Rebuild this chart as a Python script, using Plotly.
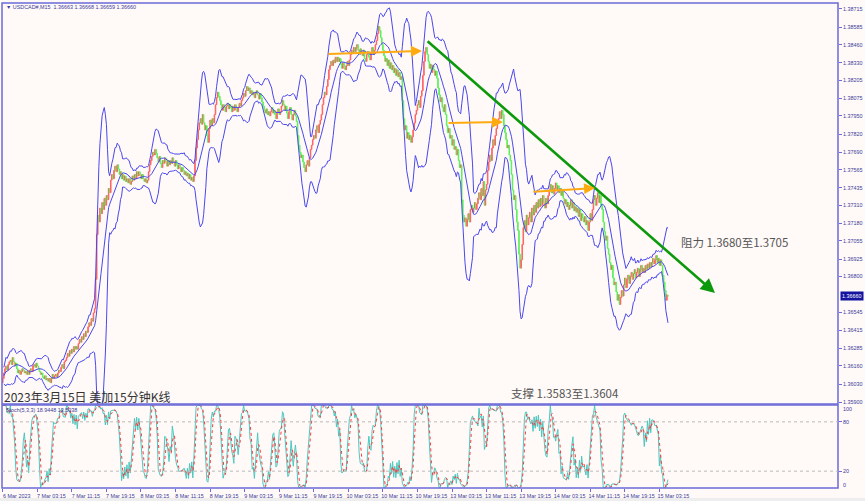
import numpy as np
import pandas as pd
import plotly.graph_objects as go

# ---------------- data ----------------
header_text = "\u25bc USDCAD#,M15  1.36663 1.36668 1.36659 1.36660"
stoch_text = "Stoch(5,3,3) 18.9448 13.5038"
title_text = "2023年3月15日 美加15分钟K线"
resist_text = "阻力 1.3680至1.3705"
support_text = "支撑 1.3583至1.3604"

sessions = [("2023-03-06 19:15", "2023-03-10 23:45"),
            ("2023-03-13 00:00", "2023-03-15 05:15")]
first_open = 1.3604
last_bar_ohlc = [1.36663, 1.36668, 1.36659, 1.36660]

close_0306 = [1.3607,1.3611,1.3614,1.3616,1.3613,1.3617,1.3619,1.3620,1.3617,1.3622,1.3619,1.3616,
              1.3618,1.3614,1.3611,1.3613,1.3610,1.3612,1.3614]
close_0307 = [1.3613,1.3611,1.3612,1.3610,1.3612,1.3610,1.3613,1.3614,1.3612,1.3616,1.3617,1.3615,
              1.3618,1.3616,1.3614,1.3612,1.3610,1.3611,1.3608,1.3607,1.3609,1.3606,1.3607,1.3605,
              1.3607,1.3604,1.3607,1.3610,1.3607,1.3609,1.3610,1.3608,1.3611,1.3613,1.3612,1.3615,
              1.3617,1.3614,1.3619,1.3620,1.3622,1.3625,1.3623,1.3627,1.3625,1.3628,1.3626,1.3630,
              1.3628,1.3630,1.3628,1.3632,1.3635,1.3633,1.3637,1.3635,1.3639,1.3637,1.3641,1.3640,
              1.3644,1.3647,1.3645,1.3650,1.3648,1.3654,1.3657,1.3678,1.3710,1.3724,1.3719,1.3729,
              1.3725,1.3733,1.3728,1.3736,1.3731,1.3738,1.3735,1.3743,1.3740,1.3749,1.3753,1.3750,
              1.3756,1.3759,1.3755,1.3760,1.3757,1.3753,1.3755,1.3750,1.3753,1.3749,1.3752,1.3748]
close_0308 = [1.3750,1.3747,1.3750,1.3746,1.3748,1.3752,1.3749,1.3753,1.3750,1.3755,1.3752,1.3755,
              1.3753,1.3750,1.3753,1.3750,1.3748,1.3750,1.3747,1.3749,1.3755,1.3760,1.3763,1.3766,
              1.3769,1.3767,1.3771,1.3768,1.3765,1.3762,1.3766,1.3761,1.3758,1.3763,1.3761,1.3765,
              1.3762,1.3759,1.3763,1.3760,1.3763,1.3761,1.3765,1.3762,1.3759,1.3763,1.3760,1.3757,
              1.3760,1.3758,1.3755,1.3758,1.3756,1.3753,1.3755,1.3752,1.3754,1.3750,1.3753,1.3749,
              1.3751,1.3748,1.3752,1.3763,1.3772,1.3778,1.3785,1.3790,1.3793,1.3789,1.3796,1.3790,
              1.3785,1.3788,1.3781,1.3776,1.3786,1.3792,1.3788,1.3793,1.3790,1.3796,1.3803,1.3808,
              1.3812,1.3809,1.3806,1.3803,1.3799,1.3803,1.3801,1.3798,1.3802,1.3804,1.3800,1.3803]
close_0309 = [1.3801,1.3798,1.3802,1.3799,1.3803,1.3801,1.3798,1.3801,1.3804,1.3802,1.3806,1.3808,
              1.3811,1.3809,1.3813,1.3816,1.3813,1.3815,1.3811,1.3813,1.3810,1.3812,1.3808,1.3811,
              1.3813,1.3810,1.3807,1.3811,1.3808,1.3805,1.3802,1.3799,1.3797,1.3800,1.3796,1.3798,
              1.3795,1.3798,1.3801,1.3797,1.3799,1.3796,1.3793,1.3798,1.3800,1.3796,1.3798,1.3802,
              1.3806,1.3803,1.3799,1.3802,1.3797,1.3793,1.3798,1.3801,1.3796,1.3792,1.3796,1.3799,
              1.3795,1.3791,1.3781,1.3774,1.3769,1.3765,1.3767,1.3762,1.3758,1.3755,1.3760,1.3763,
              1.3759,1.3765,1.3771,1.3774,1.3778,1.3781,1.3779,1.3785,1.3788,1.3783,1.3789,1.3792,
              1.3796,1.3803,1.3808,1.3812,1.3810,1.3816,1.3821,1.3828,1.3831,1.3834,1.3831,1.3835]
close_0310 = [1.3833,1.3837,1.3834,1.3837,1.3834,1.3836,1.3832,1.3829,1.3833,1.3830,1.3828,1.3831,
              1.3834,1.3831,1.3835,1.3839,1.3842,1.3840,1.3844,1.3841,1.3844,1.3846,1.3842,1.3839,
              1.3843,1.3841,1.3838,1.3842,1.3836,1.3834,1.3839,1.3841,1.3837,1.3835,1.3840,1.3844,
              1.3839,1.3842,1.3846,1.3849,1.3854,1.3859,1.3856,1.3851,1.3846,1.3842,1.3838,1.3834,
              1.3836,1.3831,1.3835,1.3829,1.3833,1.3828,1.3831,1.3826,1.3829,1.3824,1.3828,1.3823,
              1.3826,1.3821,1.3823,1.3806,1.3793,1.3785,1.3788,1.3779,1.3783,1.3778,1.3781,1.3776,
              1.3780,1.3785,1.3790,1.3796,1.3799,1.3803,1.3806,1.3801,1.3809,1.3813,1.3824,1.3834,
              1.3841,1.3844,1.3839,1.3834,1.3829,1.3832,1.3826,1.3831,1.3828,1.3824,1.3827,1.3822]
close_0313 = [1.3815,1.3810,1.3805,1.3808,1.3801,1.3798,1.3803,1.3796,1.3788,1.3783,1.3786,1.3779,
              1.3781,1.3774,1.3778,1.3771,1.3773,1.3767,1.3771,1.3763,1.3758,1.3760,1.3735,1.3724,
              1.3719,1.3722,1.3716,1.3721,1.3725,1.3719,1.3728,1.3731,1.3726,1.3729,1.3733,1.3728,
              1.3732,1.3736,1.3740,1.3735,1.3743,1.3738,1.3748,1.3731,1.3742,1.3746,1.3756,1.3762,
              1.3767,1.3763,1.3772,1.3778,1.3774,1.3781,1.3786,1.3790,1.3793,1.3798,1.3793,1.3799,
              1.3796,1.3788,1.3783,1.3778,1.3772,1.3774,1.3767,1.3763,1.3753,1.3742,1.3735,1.3738,
              1.3728,1.3719,1.3713,1.3696,1.3686,1.3692,1.3703,1.3715,1.3720,1.3712,1.3724,1.3717,
              1.3722,1.3726,1.3719,1.3729,1.3724,1.3731,1.3726,1.3733,1.3729,1.3735,1.3730,1.3736]
close_0314 = [1.3731,1.3738,1.3733,1.3729,1.3736,1.3732,1.3738,1.3742,1.3746,1.3740,1.3745,1.3739,
              1.3743,1.3747,1.3742,1.3745,1.3740,1.3743,1.3738,1.3741,1.3736,1.3732,1.3735,1.3730,
              1.3733,1.3728,1.3731,1.3735,1.3729,1.3733,1.3727,1.3730,1.3726,1.3729,1.3723,1.3728,
              1.3720,1.3725,1.3722,1.3719,1.3723,1.3717,1.3720,1.3713,1.3719,1.3725,1.3720,1.3728,
              1.3735,1.3738,1.3731,1.3736,1.3740,1.3733,1.3738,1.3731,1.3728,1.3719,1.3712,1.3706,
              1.3709,1.3700,1.3696,1.3690,1.3685,1.3688,1.3679,1.3674,1.3676,1.3669,1.3663,1.3667,
              1.3660,1.3665,1.3670,1.3666,1.3674,1.3679,1.3672,1.3678,1.3681,1.3675,1.3680,1.3683,
              1.3678,1.3682,1.3685,1.3679,1.3683,1.3686,1.3680,1.3685,1.3688,1.3683,1.3686,1.3683]
close_0315 = [1.3688,1.3685,1.3689,1.3686,1.3690,1.3687,1.3690,1.3693,1.3689,1.3692,1.3695,1.3690,
              1.3693,1.3688,1.3692,1.3688,1.3681,1.3676,1.3670,1.3663,1.3667,1.36660]

price_ticks = [1.38715, 1.38585, 1.38460, 1.38330, 1.38205, 1.38075, 1.37950, 1.37820,
               1.37690, 1.37565, 1.37435, 1.37310, 1.37180, 1.37055, 1.36925, 1.36800,
               1.36545, 1.36415, 1.36285, 1.36160, 1.36030, 1.35900]
stoch_levels = [20, 80]
stoch_edge_labels = ["100", "0"]
time_tick_labels = ["6 Mar 2023", "7 Mar 03:15", "7 Mar 11:15", "7 Mar 19:15", "8 Mar 03:15",
                    "8 Mar 11:15", "8 Mar 19:15", "9 Mar 03:15", "9 Mar 11:15", "9 Mar 19:15",
                    "10 Mar 03:15", "10 Mar 11:15", "10 Mar 19:15", "13 Mar 03:15", "13 Mar 11:15",
                    "13 Mar 19:15", "14 Mar 03:15", "14 Mar 11:15", "14 Mar 19:15", "15 Mar 03:15"]
time_tick_stamps = ["2023-03-06 19:15", "2023-03-07 03:15", "2023-03-07 11:15", "2023-03-07 19:15",
                    "2023-03-08 03:15", "2023-03-08 11:15", "2023-03-08 19:15", "2023-03-09 03:15",
                    "2023-03-09 11:15", "2023-03-09 19:15", "2023-03-10 03:15", "2023-03-10 11:15",
                    "2023-03-10 19:15", "2023-03-13 03:15", "2023-03-13 11:15", "2023-03-13 19:15",
                    "2023-03-14 03:15", "2023-03-14 11:15", "2023-03-14 19:15", "2023-03-15 03:15"]

# drawn objects (bar index, price)
trend_green = [(392.0, 1.38493), (659.5, 1.36682)]
orange_arrows = [[(300.2, 1.38393), (388.2, 1.38415)],
                 [(411.4, 1.37899), (463.2, 1.37906)],
                 [(490.0, 1.37407), (548.4, 1.37434)]]
current_price = 1.36660

# ---------------- build series ----------------
times = pd.DatetimeIndex(np.concatenate([pd.date_range(s, e, freq="15min").values
                                         for s, e in sessions]))
closes = (close_0306 + close_0307 + close_0308 + close_0309 + close_0310 +
          close_0313 + close_0314 + close_0315)
n = len(closes)
xs = np.arange(n)
opens = [first_open] + closes[:-1]
opens[-1] = last_bar_ohlc[0]
highs = [max(o, c) for o, c in zip(opens, closes)]
lows = [min(o, c) for o, c in zip(opens, closes)]
highs[-1] = last_bar_ohlc[1]
lows[-1] = last_bar_ohlc[2]

df = pd.DataFrame({"o": opens, "h": highs, "l": lows, "c": closes})
bb_period, bb_dev = 12, 3.0
mid = df.c.rolling(bb_period, min_periods=2).mean()
sd = df.c.rolling(bb_period, min_periods=2).std(ddof=0)
upper = mid + bb_dev * sd
lower = mid - bb_dev * sd

ll = df.l.rolling(5, min_periods=1).min()
hh = df.h.rolling(5, min_periods=1).max()
num = (df.c - ll).rolling(3, min_periods=1).sum()
den = (hh - ll).rolling(3, min_periods=1).sum().replace(0, np.nan)
k_line = (100 * num / den).fillna(50)
d_line = k_line.rolling(3, min_periods=1).mean()

tick_idx = []
for s in time_tick_stamps:
    pos = np.where(times == pd.Timestamp(s))[0]
    tick_idx.append(int(pos[0]) if len(pos) else 0)

# ---------------- figure ----------------
W, H = 865, 501
ml, mr, mt, mb = 2, 27, 3, 13
plot_h = H - mt - mb
main_dom = [(488 - 404) / plot_h, 1.0]
sto_dom = [0.0, (488 - 405) / plot_h]
frame_col = "#6a6ad8"
label_col = "#3a3a9a"
band_col = "rgb(72,72,238)"
font_small = dict(family="Liberation Sans, Arial, DejaVu Sans", size=5.4, color=label_col)
cjk = "Noto Sans CJK SC, Noto Sans, sans-serif"

def px2paper_x(px):
    return (px - ml) / (W - ml - mr)

def px2paper_y(py):
    return (H - mb - py) / plot_h

fig = go.Figure()
for series in (upper, lower, mid):
    fig.add_trace(go.Scatter(x=xs, y=series, mode="lines", line=dict(color=band_col, width=1),
                             hoverinfo="skip", showlegend=False, xaxis="x", yaxis="y"))
fig.add_trace(go.Candlestick(
    x=xs, open=opens, high=highs, low=lows, close=closes,
    increasing=dict(line=dict(color="#ff6464", width=1), fillcolor="#ff6464"),
    decreasing=dict(line=dict(color="#5cf05c", width=1), fillcolor="#5cf05c"),
    whiskerwidth=0, showlegend=False, xaxis="x", yaxis="y"))
fig.add_trace(go.Scatter(x=xs, y=k_line, mode="lines", line=dict(color="#4cc8c0", width=1),
                         hoverinfo="skip", showlegend=False, xaxis="x", yaxis="y2"))
fig.add_trace(go.Scatter(x=xs, y=d_line, mode="lines",
                         line=dict(color="#ff3b3b", width=1, dash="dot"),
                         hoverinfo="skip", showlegend=False, xaxis="x", yaxis="y2"))

shapes = [
    dict(type="rect", xref="paper", yref="paper", x0=0, x1=1, y0=main_dom[0], y1=1,
         line=dict(color=frame_col, width=1.5)),
    dict(type="rect", xref="paper", yref="paper", x0=0, x1=1, y0=0, y1=sto_dom[1],
         line=dict(color=frame_col, width=1.5)),
    dict(type="rect", xref="paper", yref="paper", x0=-0.01, x1=1.05,
         y0=px2paper_y(501.5), y1=px2paper_y(498), fillcolor="#eeeeee", line=dict(width=0)),
]
for lv in stoch_levels:
    shapes.append(dict(type="line", xref="x domain", yref="y2", x0=0, x1=1, y0=lv, y1=lv,
                       line=dict(color="#b8b8b8", width=1, dash="dot")))

annotations = [
    dict(text=header_text, xref="paper", yref="paper", x=px2paper_x(4), y=px2paper_y(7),
         xanchor="left", yanchor="middle", showarrow=False, font=font_small),
    dict(text=stoch_text, xref="paper", yref="paper", x=px2paper_x(4), y=px2paper_y(410),
         xanchor="left", yanchor="middle", showarrow=False, font=font_small),
    dict(text=title_text, xref="paper", yref="paper", x=px2paper_x(2), y=px2paper_y(396.5),
         xanchor="left", yanchor="middle", showarrow=False,
         font=dict(family=cjk, size=12, color="#333333")),
    dict(text=resist_text, xref="paper", yref="paper", x=px2paper_x(679), y=px2paper_y(241.5),
         xanchor="left", yanchor="middle", showarrow=False,
         font=dict(family=cjk, size=11.5, color="#555555")),
    dict(text=support_text, xref="paper", yref="paper", x=px2paper_x(509), y=px2paper_y(393),
         xanchor="left", yanchor="middle", showarrow=False,
         font=dict(family=cjk, size=11.5, color="#555555")),
    dict(text=f"{current_price:.5f}", xref="paper", yref="y", x=1, y=current_price,
         xanchor="left", yanchor="middle", xshift=2, showarrow=False, bgcolor="#1414a0",
         borderpad=1, font=dict(family="Liberation Sans, Arial", size=5.4, color="white")),
    dict(text=stoch_edge_labels[0], xref="paper", yref="paper", x=1, y=px2paper_y(409),
         xanchor="left", yanchor="middle", xshift=3, showarrow=False, font=font_small),
    dict(text=stoch_edge_labels[1], xref="paper", yref="paper", x=1, y=px2paper_y(485),
         xanchor="left", yanchor="middle", xshift=3, showarrow=False, font=font_small),
    dict(text="", xref="x", yref="y", x=trend_green[1][0], y=trend_green[1][1],
         axref="x", ayref="y", ax=trend_green[0][0], ay=trend_green[0][1], showarrow=True,
         arrowhead=2, arrowsize=1.1, arrowwidth=2.6, arrowcolor="#0c9a0c", standoff=0),
]
for (x0, y0), (x1, y1) in orange_arrows:
    annotations.append(dict(text="", xref="x", yref="y", x=x1, y=y1, axref="x", ayref="y",
                            ax=x0, ay=y0, showarrow=True, arrowhead=2, arrowsize=1.1,
                            arrowwidth=2, arrowcolor="#ffaa10", standoff=0))

fig.update_layout(
    width=W, height=H, margin=dict(l=ml, r=mr, t=mt, b=mb, autoexpand=False),
    paper_bgcolor="#fffaf8", plot_bgcolor="#fffaf8",
    showlegend=False, shapes=shapes, annotations=annotations,
    xaxis=dict(domain=[0, 1], anchor="y2", range=[-0.7, 773.4], tickmode="array",
               tickvals=tick_idx, ticktext=time_tick_labels, ticks="outside", ticklen=3,
               tickcolor=frame_col, tickfont=font_small, ticklabelshift=14,
               showgrid=False, zeroline=False, showline=False, automargin=False,
               rangeslider=dict(visible=False)),
    yaxis=dict(domain=main_dom, anchor="x", side="right",
               range=[1.358878, 1.387579], tickmode="array", tickvals=price_ticks,
               ticktext=[f"{v:.5f}" for v in price_ticks], ticks="outside", ticklen=3,
               tickcolor=frame_col, tickfont=font_small, showgrid=False, zeroline=False,
               showline=False, automargin=False),
    yaxis2=dict(domain=sto_dom, anchor="x", side="right", range=[-0.5, 100.5],
                tickmode="array", tickvals=stoch_levels, ticks="outside", ticklen=3,
                tickcolor=frame_col, tickfont=font_small, showgrid=False, zeroline=False,
                showline=False, automargin=False),
)

fig.write_html("out.html", config={"displayModeBar": False},
               post_script="document.body.style.margin='0';"
                           "document.body.style.background='#fffaf8';")
